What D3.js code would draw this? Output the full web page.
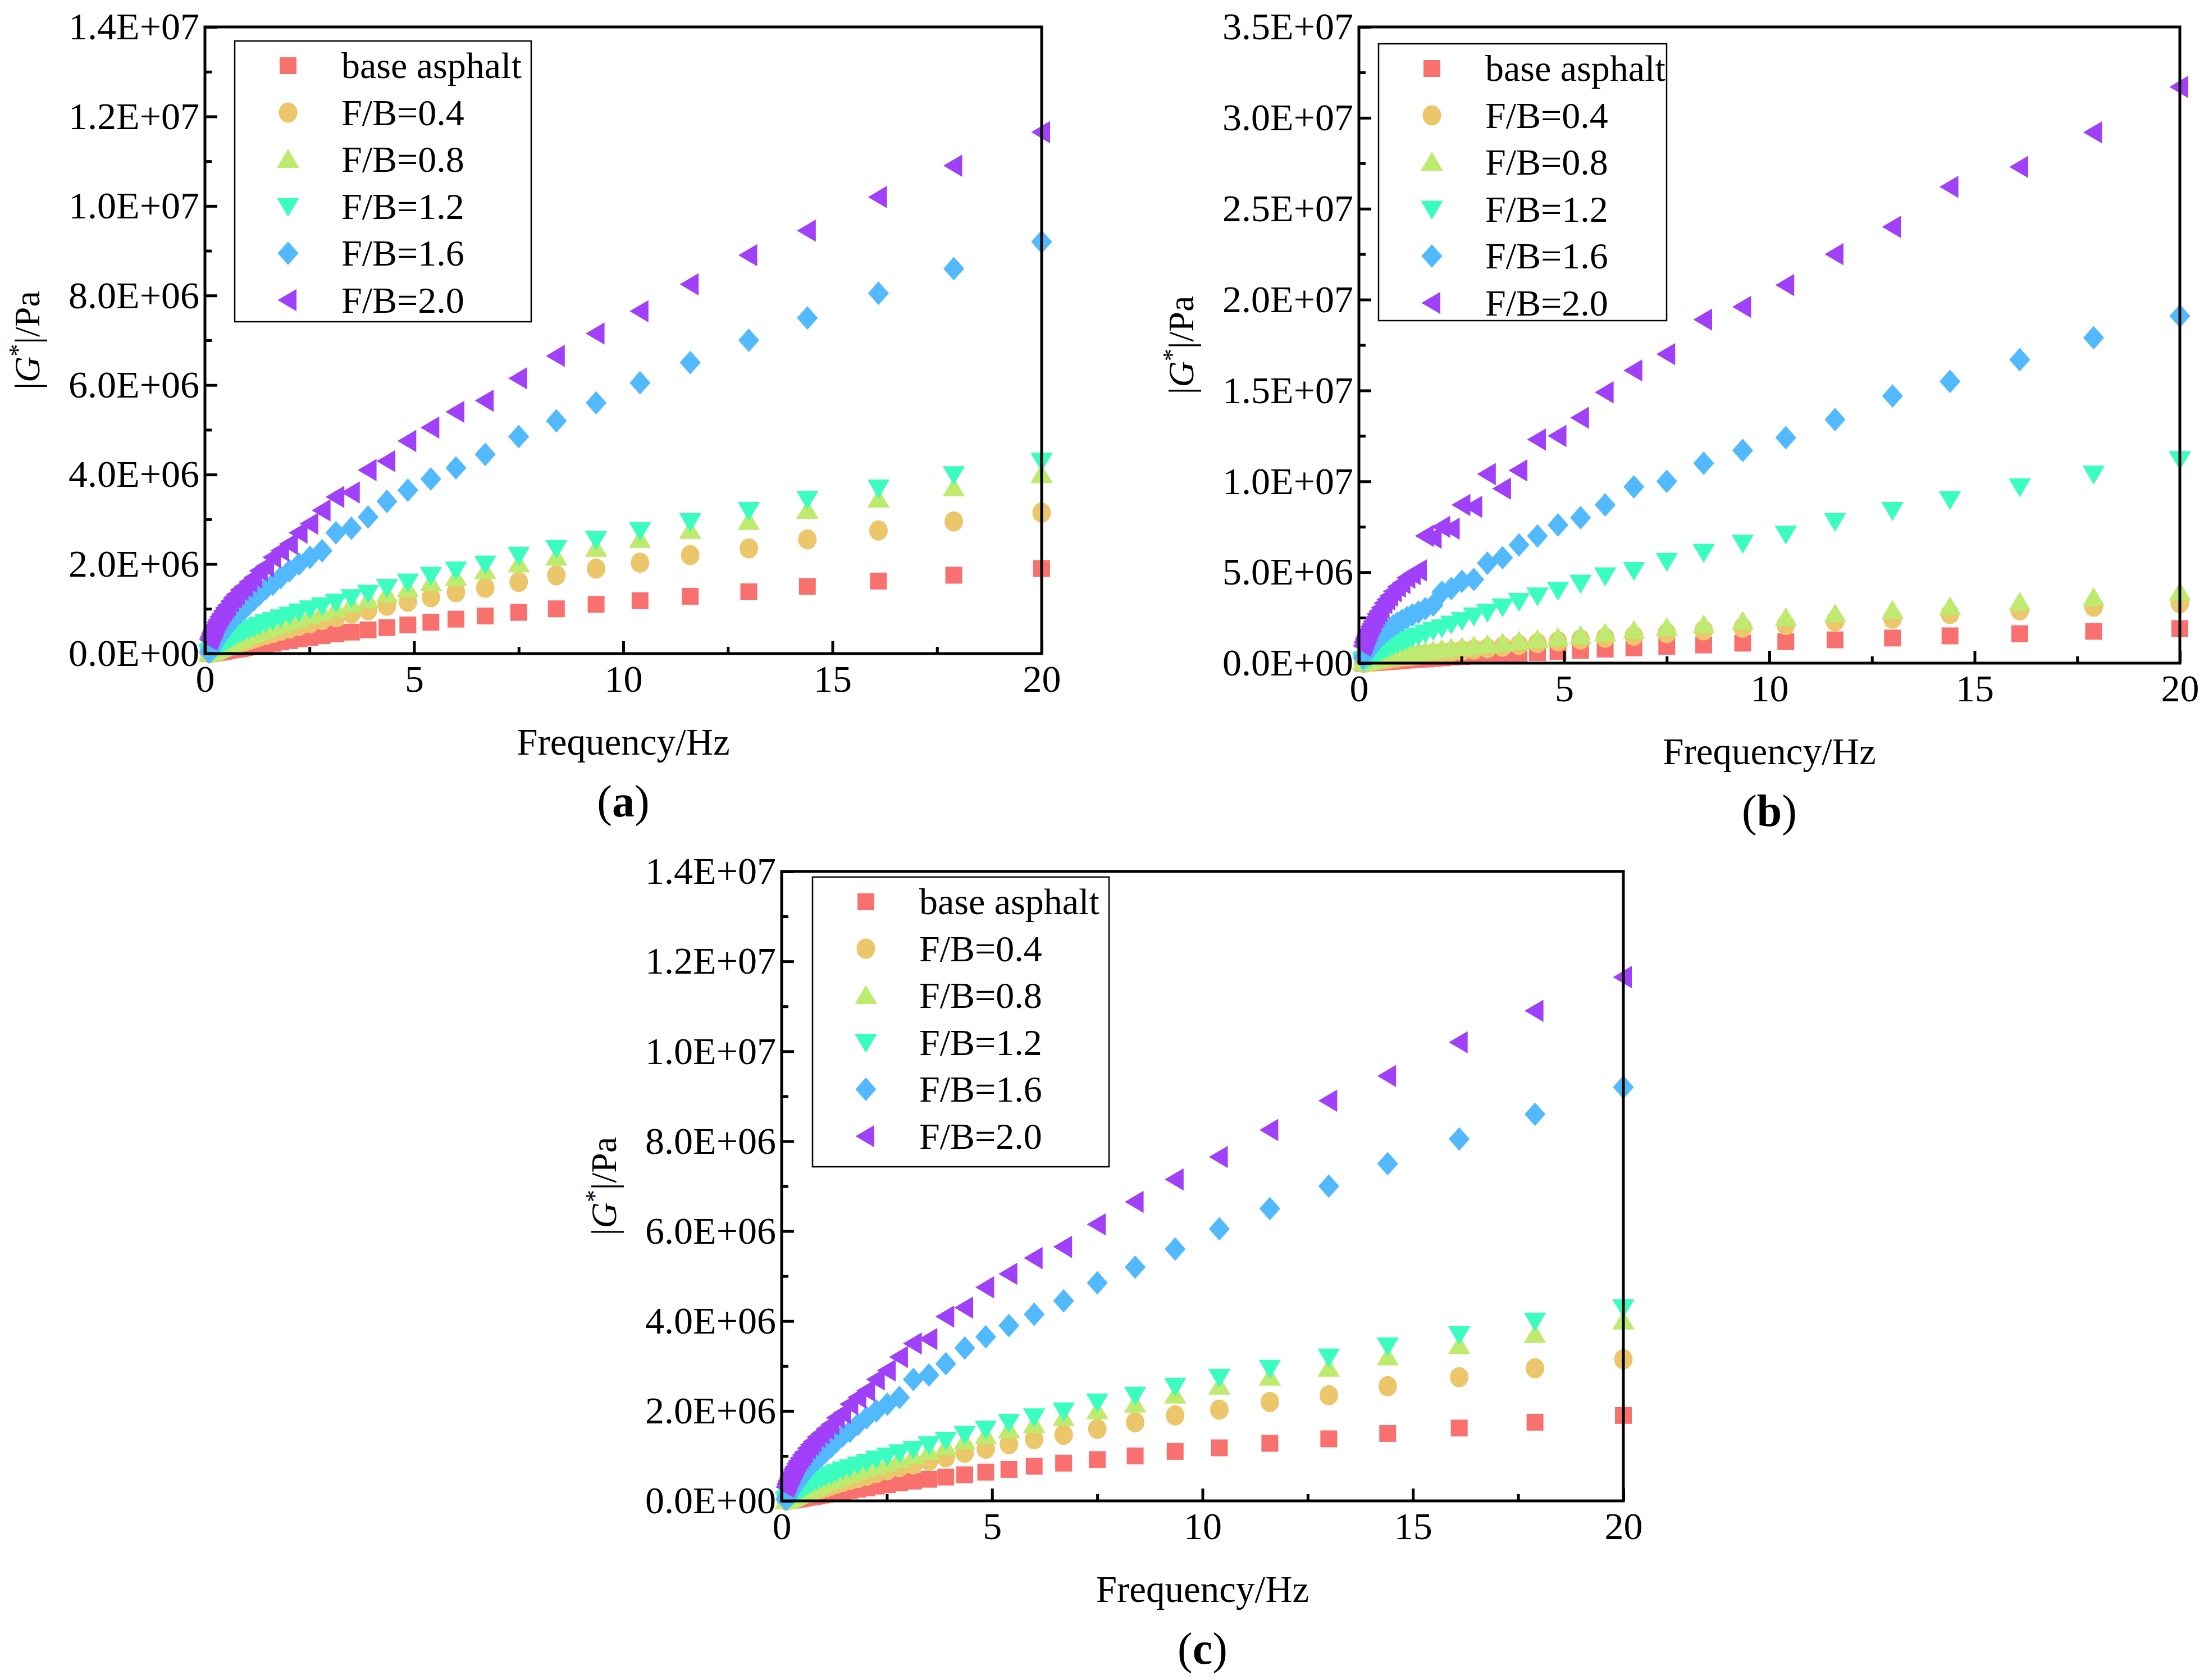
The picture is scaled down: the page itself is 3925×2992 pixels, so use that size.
<!DOCTYPE html>
<html><head><meta charset="utf-8">
<script src="https://cdn.jsdelivr.net/npm/d3@7"></script>
<style>body{margin:0;background:#fff}text{font-family:"Liberation Serif","Times New Roman",serif}</style>
</head><body>
<svg id="c" width="3925" height="2992"></svg>
<script>
const freq=[20.0,17.9,16.1,14.4,13.0,11.6,10.4,9.35,8.4,7.5,6.7,6.0,5.4,4.85,4.35,3.9,3.5,3.13,2.8,2.51,2.25,2.02,1.81,1.62,1.45,1.30,1.17,1.05,0.94,0.84,0.75,0.68,0.61,0.54,0.49,0.44,0.39,0.35,0.31,0.28,0.25,0.23,0.20,0.18,0.16,0.15,0.13,0.12,0.10];
const seriesNames=["base asphalt","F/B=0.4","F/B=0.8","F/B=1.2","F/B=1.6","F/B=2.0"];
const colors=["#F8716F","#EBC66B","#BEEA6F","#3AFDBF","#52BAFC","#A040F8"];
// values in 1E+06 Pa — panels (a) and (c)
const redA=[1.9,1.75,1.62,1.5,1.38,1.28,1.18,1.1,1.0,0.92,0.84,0.77,0.7,0.64,0.58,0.53,0.48,0.44,0.4,0.36,0.33,0.29,0.26,0.23,0.21,0.19,0.17,0.15,0.13,0.11,0.1,0.09,0.08,0.07,0.06,0.05,0.04,0.04,0.03,0.03,0.02,0.02,0.02,0.01,0.01,0.01,0.01,0.01,0.0];
const orangeA=[3.15,2.95,2.75,2.55,2.35,2.2,2.03,1.9,1.75,1.6,1.47,1.37,1.26,1.16,1.07,0.97,0.89,0.81,0.75,0.68,0.62,0.56,0.51,0.46,0.42,0.38,0.34,0.3,0.27,0.24,0.21,0.19,0.17,0.15,0.13,0.11,0.09,0.08,0.07,0.06,0.05,0.04,0.03,0.03,0.02,0.02,0.01,0.01,0.01];
const greenA=[4.0,3.7,3.45,3.2,2.95,2.75,2.55,2.35,2.15,2.0,1.85,1.7,1.58,1.45,1.33,1.2,1.1,1.0,0.92,0.84,0.77,0.71,0.65,0.59,0.54,0.49,0.45,0.41,0.37,0.33,0.3,0.27,0.24,0.21,0.19,0.16,0.14,0.12,0.1,0.09,0.07,0.06,0.05,0.04,0.03,0.03,0.02,0.02,0.01];
const cyanA=[4.3,4.0,3.7,3.45,3.2,2.95,2.75,2.55,2.35,2.2,2.0,1.87,1.75,1.6,1.48,1.35,1.25,1.15,1.07,1.0,0.93,0.86,0.8,0.74,0.69,0.63,0.58,0.54,0.5,0.46,0.42,0.38,0.35,0.31,0.28,0.25,0.22,0.19,0.16,0.14,0.12,0.1,0.08,0.06,0.05,0.04,0.03,0.02,0.01];
const blueA=[9.2,8.6,8.05,7.5,7.0,6.5,6.05,5.6,5.2,4.85,4.45,4.15,3.9,3.65,3.4,3.05,2.8,2.7,2.3,2.15,2.0,1.85,1.7,1.55,1.45,1.32,1.2,1.1,1.0,0.92,0.84,0.77,0.7,0.62,0.56,0.5,0.44,0.39,0.34,0.3,0.26,0.23,0.19,0.16,0.13,0.11,0.08,0.06,0.03];
const purpleA=[11.65,10.9,10.2,9.45,8.9,8.25,7.65,7.15,6.65,6.15,5.65,5.4,5.05,4.75,4.3,4.1,3.6,3.5,3.2,2.9,2.7,2.45,2.3,2.15,1.95,1.85,1.7,1.6,1.5,1.42,1.32,1.25,1.17,1.08,1.02,0.95,0.88,0.82,0.75,0.7,0.64,0.6,0.54,0.5,0.46,0.43,0.39,0.36,0.31];
// panel (b)
const redB=redA;
const orangeB=[3.3,3.1,2.9,2.7,2.45,2.3,2.1,1.95,1.8,1.65,1.5,1.4,1.3,1.2,1.1,1.0,0.9,0.82,0.75,0.69,0.63,0.58,0.53,0.48,0.44,0.4,0.37,0.34,0.31,0.28,0.25,0.23,0.21,0.19,0.17,0.15,0.13,0.12,0.1,0.09,0.08,0.07,0.06,0.05,0.04,0.04,0.03,0.03,0.02];
const greenB=[3.9,3.6,3.35,3.1,2.9,2.7,2.5,2.3,2.1,1.95,1.8,1.65,1.5,1.4,1.3,1.2,1.1,1.02,0.95,0.88,0.82,0.76,0.7,0.65,0.6,0.56,0.52,0.48,0.44,0.41,0.38,0.35,0.32,0.29,0.27,0.25,0.22,0.2,0.18,0.16,0.14,0.13,0.11,0.1,0.09,0.08,0.07,0.06,0.05];
const cyanB=[11.2,10.4,9.7,9.0,8.4,7.8,7.1,6.6,6.1,5.6,5.1,4.8,4.4,4.0,3.7,3.4,3.1,2.8,2.6,2.35,2.15,1.95,1.8,1.65,1.5,1.4,1.28,1.17,1.07,0.98,0.9,0.82,0.75,0.68,0.62,0.56,0.5,0.45,0.4,0.36,0.32,0.29,0.25,0.22,0.19,0.17,0.14,0.12,0.1];
const blueB=[19.1,17.9,16.7,15.5,14.7,13.4,12.4,11.7,11.0,10.0,9.7,8.7,8.0,7.6,7.0,6.5,5.8,5.5,4.6,4.5,4.1,3.9,3.2,3.0,2.8,2.65,2.5,2.35,2.2,2.05,1.9,1.8,1.65,1.5,1.4,1.3,1.15,1.05,0.95,0.85,0.75,0.7,0.6,0.55,0.48,0.45,0.4,0.35,0.3];
const purpleB=[31.7,29.2,27.3,26.2,24.0,22.5,20.8,19.6,18.9,17.0,16.1,14.9,13.5,12.5,12.3,10.6,9.6,10.4,8.6,8.7,7.4,7.5,6.9,7.0,5.1,4.9,4.7,4.4,4.2,3.95,3.7,3.5,3.3,3.05,2.85,2.7,2.5,2.3,2.15,2.0,1.85,1.75,1.6,1.5,1.4,1.3,1.2,1.1,0.95];
const xTicks=[0,5,10,15,20];
const yTicksAC=[0,2e6,4e6,6e6,8e6,1e7,1.2e7,1.4e7];
const yTicksB=[0,5e6,1e7,1.5e7,2e7,2.5e7,3e7,3.5e7];

const svg=d3.select("#c");
const fmt=v=>{if(v===0)return "0.0E+00";const e=Math.floor(Math.log10(v)+1e-9);const m=v/Math.pow(10,e);return m.toFixed(1)+"E+"+String(e).padStart(2,"0");};
const S=30;
function sym(i,g,x,y,col){
  const s=S;let p;
  if(i===0)p=`M${-s/2},${-s/2}h${s}v${s}h${-s}Z`;
  else if(i===1){g.append("ellipse").attr("cx",x).attr("cy",y).attr("rx",s*0.55).attr("ry",s*0.6).attr("fill",col);return;}
  else if(i===2)p=`M0,${-s*0.62}L${s*0.66},${s*0.5}L${-s*0.66},${s*0.5}Z`;
  else if(i===3)p=`M0,${s*0.62}L${s*0.66},${-s*0.5}L${-s*0.66},${-s*0.5}Z`;
  else if(i===4)p=`M0,${-s*0.7}L${s*0.62},0L0,${s*0.7}L${-s*0.62},0Z`;
  else p=`M${-s*0.62},0L${s*0.5},${-s*0.66}L${s*0.5},${s*0.66}Z`;
  g.append("path").attr("d",p).attr("transform",`translate(${x},${y})`).attr("fill",col);
}
function panel(o){
  const g=svg.append("g");
  const x=d3.scaleLinear().domain([0,20]).range([o.x0,o.x1]);
  const y=d3.scaleLinear().domain([0,o.ymax]).range([o.y1,o.y0]);
  const plot=g.append("g");
  o.data.forEach((arr,i)=>{arr.forEach((v,j)=>sym(i,plot,x(freq[j]),y(v*1e6),colors[i]));});
  const ax=g.append("g").attr("transform",`translate(0,${o.y1})`).call(d3.axisBottom(x).tickValues(xTicks).tickSize(-22).tickPadding(20).tickFormat(d3.format("d")));
  const axm=g.append("g").attr("transform",`translate(0,${o.y1})`).call(d3.axisBottom(x).tickValues([2.5,7.5,12.5,17.5]).tickSize(-12).tickFormat(""));
  const ay=g.append("g").attr("transform",`translate(${o.x0},0)`).call(d3.axisLeft(y).tickValues(o.yt).tickSize(-22).tickPadding(10).tickFormat(fmt));
  const mins=[];for(let k=0;k<o.yt.length-1;k++)mins.push((o.yt[k]+o.yt[k+1])/2);
  const aym=g.append("g").attr("transform",`translate(${o.x0},0)`).call(d3.axisLeft(y).tickValues(mins).tickSize(-12).tickFormat(""));
  [ax,axm,ay,aym].forEach(a=>{a.select(".domain").remove();a.selectAll("line").attr("stroke","#000").attr("stroke-width",5);a.selectAll("text").attr("font-size",68).attr("fill","#000").attr("font-family","Liberation Serif");});
  g.append("rect").attr("x",o.x0).attr("y",o.y0).attr("width",o.x1-o.x0).attr("height",o.y1-o.y0).attr("fill","none").attr("stroke","#000").attr("stroke-width",5);
  // legend
  const L=g.append("g");
  L.append("rect").attr("x",o.lx).attr("y",o.ly).attr("width",o.lw).attr("height",o.lh).attr("fill","#fff").attr("stroke","#000").attr("stroke-width",2.5);
  seriesNames.forEach((n,i)=>{const cy=o.ly+44+i*83.5;sym(i,L,o.lx+95,cy,colors[i]);
    L.append("text").attr("x",o.lx+190).attr("y",cy+22).attr("font-size",66).text(n);});
  // y title
  const yt=g.append("text").attr("transform",`translate(${o.x0-295},${(o.y0+o.y1)/2}) rotate(-90)`).attr("text-anchor","middle").attr("font-size",64);
  yt.append("tspan").text("|");yt.append("tspan").attr("font-style","italic").text("G");
  yt.append("tspan").attr("dy",-24).attr("font-size",44).text("*");yt.append("tspan").attr("dy",24).text("|/Pa");
  g.append("text").attr("x",(o.x0+o.x1)/2).attr("y",o.y1+180).attr("text-anchor","middle").attr("font-size",67).text("Frequency/Hz");
  const pl=g.append("text").attr("x",(o.x0+o.x1)/2).attr("y",o.y1+290).attr("text-anchor","middle").attr("font-size",80);
  pl.append("tspan").text("(");pl.append("tspan").attr("font-weight","bold").text(o.label);pl.append("tspan").text(")");
}
panel({x0:365,x1:1855,y0:48,y1:1164,ymax:1.4e7,yt:yTicksAC,data:[redA,orangeA,greenA,cyanA,blueA,purpleA],lx:418,ly:73,lw:528,lh:500,label:"a"});
panel({x0:2420,x1:3882,y0:48,y1:1181,ymax:3.5e7,yt:yTicksB,data:[redB,orangeB,greenB,cyanB,blueB,purpleB],lx:2455,ly:78,lw:513,lh:493,label:"b"});
panel({x0:1392,x1:2891,y0:1552,y1:2673,ymax:1.4e7,yt:yTicksAC,data:[redA,orangeA,greenA,cyanA,blueA,purpleA],lx:1447,ly:1562,lw:528,lh:516,label:"c"});
</script></body></html>
